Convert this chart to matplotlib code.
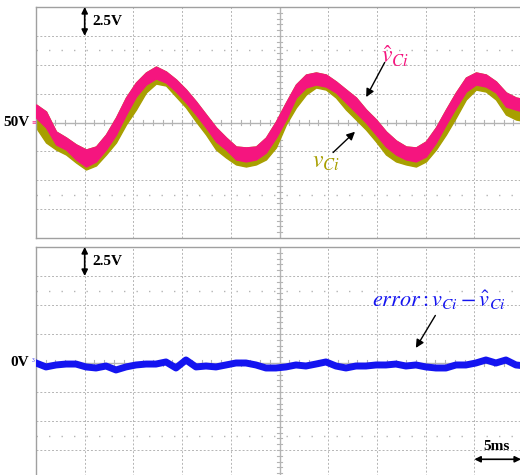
"""Scope capture: observer estimate of capacitor voltage and its error"""
import numpy as np
import matplotlib.pyplot as plt

plt.rcParams['font.family'] = ['Liberation Serif', 'DejaVu Serif']
plt.rcParams['mathtext.fontset'] = 'stix'

# time base [ms], one sample every ~1.03 ms across the 10 divisions (5 ms/div)
t = np.linspace(0, 50.3, 50)

# capacitor voltage estimate v^_Ci [V], upper and lower edge of the ripple band
vhat_hi = [51.56, 50.95, 49.22, 48.70, 48.10, 47.66, 47.92, 48.96, 50.43, 52.16,
           53.46, 54.33, 54.84, 54.41, 53.72, 52.85, 51.82, 50.69, 49.57, 48.70,
           47.92, 47.84, 47.92, 48.70, 50.09, 51.73, 53.29, 54.15, 54.33, 54.15,
           53.55, 52.85, 52.16, 51.12, 50.26, 49.22, 48.44, 47.92, 47.84, 48.36,
           49.57, 51.12, 52.60, 53.89, 54.33, 54.15, 53.55, 52.60, 52.16, 51.99]
vhat_lo = [50.43, 49.57, 48.10, 47.66, 46.80, 46.19, 46.63, 47.66, 48.96, 50.69,
           52.25, 53.29, 53.81, 53.46, 52.68, 51.73, 50.69, 49.57, 48.36, 47.66,
           46.80, 46.63, 46.80, 47.40, 48.70, 50.26, 52.16, 53.03, 53.29, 53.11,
           52.60, 51.73, 50.87, 50.00, 48.96, 47.92, 47.23, 46.80, 46.63, 47.06,
           48.27, 49.83, 51.30, 52.68, 53.29, 53.11, 52.60, 51.38, 51.12, 50.87]
# measured v_Ci [V], lower edge (its upper edge is hidden under the estimate)
v_lo = [49.57, 48.27, 47.66, 47.23, 46.54, 45.93, 46.28, 47.23, 48.27, 49.83,
        51.12, 52.60, 53.37, 53.20, 52.25, 51.30, 50.09, 48.96, 47.66, 46.97,
        46.37, 46.19, 46.37, 46.80, 47.84, 49.83, 51.30, 52.42, 53.03, 52.85,
        52.16, 51.12, 50.26, 49.39, 48.36, 47.23, 46.63, 46.37, 46.19, 46.63,
        47.66, 48.96, 50.43, 51.99, 52.85, 52.68, 51.99, 50.69, 50.26, 50.09]
# estimation error v_Ci - v^_Ci [V]
err = [0.0, -0.34, -0.17, -0.09, -0.09, -0.34, -0.43, -0.26, -0.60, -0.34,
       -0.17, -0.09, -0.09, 0.09, -0.43, 0.26, -0.34, -0.26, -0.34, -0.17,
       0.0, 0.0, -0.17, -0.43, -0.43, -0.34, -0.17, -0.26, -0.09, 0.09,
       -0.26, -0.43, -0.26, -0.26, -0.17, -0.17, -0.09, -0.26, -0.17, -0.34,
       -0.43, -0.43, -0.17, -0.17, 0.0, 0.26, 0.0, 0.26, -0.17, -0.26]

PINK = '#f5157f'
OLIVE = '#a89f00'
BLUE = '#1414f0'
GRID = '#b4b4b4'


def scope_screen(ax, y0):
    """Draw the 10x8 division graticule of the scope around offset y0 (2.5 V/div)."""
    ax.set_xlim(0, 50)
    ax.set_ylim(y0 - 10, y0 + 10)
    ax.set_xticks([])
    ax.set_yticks([])
    for s in ax.spines.values():
        s.set_color('#a0a0a0')
        s.set_linewidth(1.0)
    for x in range(5, 50, 5):
        if x != 25:
            ax.axvline(x, color=GRID, lw=0.7, ls=(0, (2, 2)), zorder=0)
    for k in range(-3, 4):
        if k != 0:
            ax.axhline(y0 + 2.5 * k, color=GRID, lw=0.7, ls=(0, (2, 2)), zorder=0)
    # dotted lines at +-2.5 div
    for yy in (y0 + 6.25, y0 - 6.25):
        ax.axhline(yy, color=GRID, lw=1.0, ls=(0, (1, 8)), zorder=0)
    # centre cross with minor ticks
    ax.axvline(25, color=GRID, lw=1.0, zorder=0)
    ax.axhline(y0, color=GRID, lw=1.0, zorder=0)
    for xm in np.arange(1, 50, 1.0):
        ax.plot([xm, xm], [y0 - 0.25, y0 + 0.25], color=GRID, lw=0.8, zorder=0)
    for ym in np.arange(y0 - 9.5, y0 + 10, 0.5):
        ax.plot([24.75, 25.25], [ym, ym], color=GRID, lw=0.8, zorder=0)
    # volts/div marker
    ax.annotate('', xy=(5.0, y0 + 7.5), xytext=(5.0, y0 + 10),
                arrowprops=dict(arrowstyle='<|-|>', color='k', lw=1.2,
                                mutation_scale=9, shrinkA=0, shrinkB=0))
    ax.text(5.8, y0 + 8.75, '2.5V', fontsize=11, fontweight='bold',
            ha='left', va='center')


fig = plt.figure(figsize=(5.2, 4.75), dpi=100)
ax1 = fig.add_axes([36 / 520, 1 - 238 / 475, 487 / 520, 231 / 475])
ax2 = fig.add_axes([36 / 520, 1 - 479 / 475, 487 / 520, 232 / 475])

# top: v_Ci and its estimate
scope_screen(ax1, 50)
ax1.fill_between(t, v_lo, vhat_hi, color=OLIVE, lw=1.0, zorder=2)
ax1.fill_between(t, vhat_lo, vhat_hi, color=PINK, lw=1.0, zorder=3)
ax1.text(-0.65, 50, '50V', fontsize=11, fontweight='bold', ha='right',
         va='center', clip_on=False)
ax1.text(-0.2, 50.1, '≡', fontsize=4, color=PINK, ha='center', va='center',
         family='DejaVu Sans', clip_on=False)
ax1.text(36.9, 55.7, r'$\hat{v}_{Ci}$', fontsize=17, color=PINK,
         ha='center', va='center')
ax1.annotate('', xy=(33.9, 52.2), xytext=(35.8, 55.2),
             arrowprops=dict(arrowstyle='-|>', color='k', lw=1.0,
                             mutation_scale=12, shrinkA=0, shrinkB=0))
ax1.text(29.8, 46.5, r'$v_{Ci}$', fontsize=17, color=OLIVE,
         ha='center', va='center')
ax1.annotate('', xy=(32.75, 49.2), xytext=(30.5, 47.4),
             arrowprops=dict(arrowstyle='-|>', color='k', lw=1.0,
                             mutation_scale=12, shrinkA=0, shrinkB=0))

# bottom: estimation error
scope_screen(ax2, 0)
ax2.plot(t, err, color=BLUE, lw=5, zorder=3)
ax2.text(-0.7, 0, '0V', fontsize=11, fontweight='bold', ha='right',
         va='center', clip_on=False)
ax2.text(-0.25, 0.25, '3', fontsize=4, color=BLUE, ha='center', va='center',
         clip_on=False)
ax2.text(41.4, 5.4, r'$error:v_{Ci}-\hat{v}_{Ci}$', fontsize=16, color=BLUE,
         ha='center', va='center')
ax2.annotate('', xy=(39.0, 1.3), xytext=(41.0, 4.1),
             arrowprops=dict(arrowstyle='-|>', color='k', lw=1.0,
                             mutation_scale=12, shrinkA=0, shrinkB=0))
ax2.annotate('', xy=(49.8, -8.3), xytext=(45.0, -8.3),
             arrowprops=dict(arrowstyle='<|-|>', color='k', lw=1.2,
                             mutation_scale=9, shrinkA=0, shrinkB=0))
ax2.text(47.3, -7.2, '5ms', fontsize=11, fontweight='bold',
         ha='center', va='center')

fig.savefig('out.png', dpi=100)
